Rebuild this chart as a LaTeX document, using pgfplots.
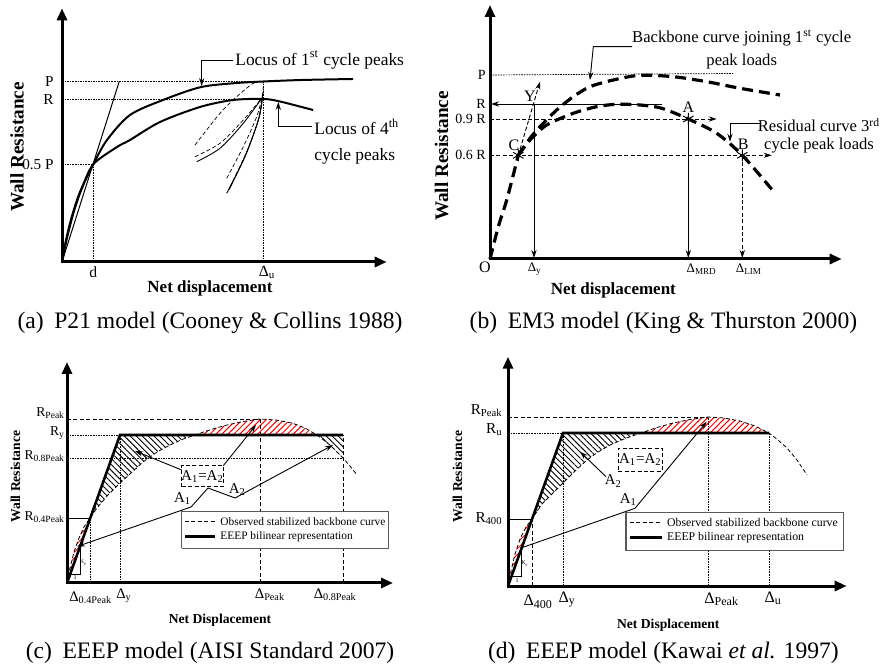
\documentclass[border=0pt]{standalone}
\usepackage{fontspec}
\setmainfont{Liberation Serif}
\usepackage{pgfplots}
\pgfplotsset{compat=1.18}
\usetikzlibrary{patterns.meta,arrows.meta}

\newcommand\fs[1]{\fontsize{#1}{#1}\selectfont}

\tikzset{
  axln/.style={line width=1.5pt, line join=miter,
    {Triangle[length=6pt,width=5pt]}-{Triangle[length=6pt,width=5pt]}},
  dotl/.style={line width=0.35pt, dash pattern=on 0.8pt off 0.5pt},
  dashl/.style={line width=0.45pt, dash pattern=on 2pt off 1.2pt},
  bigdash/.style={line width=1.6pt, dash pattern=on 5.5pt off 3pt},
  lead/.style={line width=0.45pt},
  ahead/.style={-{Stealth[length=4pt,width=2.6pt]}},
  hatchr/.style={draw=none, pattern={Lines[angle=45,distance=2.1pt,line width=0.5pt]}, pattern color=red},
  hatchk/.style={draw=none, pattern={Lines[angle=-45,distance=2.1pt,line width=0.45pt]}, pattern color=black},
}
\pgfplotsset{panel/.style={x=0.5pt, y=0.5pt, hide axis, clip=false,
  anchor=origin, xmin=0, ymin=0, enlargelimits=false}}

\begin{document}
\begin{tikzpicture}
\path[use as bounding box] (0,0) rectangle (440.5pt,334pt);

% ---------------- (a) P21 model ----------------
\begin{axis}[panel, at={(31pt,203pt)}, xmax=324.7, ymax=253.7]
  \addplot[dotl] coordinates {(0,180.7) (201.3,180.7)};
  \addplot[dotl] coordinates {(0,162.7) (201.3,162.7)};
  \addplot[dotl] coordinates {(0,97.7) (31.3,97.7)};
  \addplot[dotl] coordinates {(31.3,0) (31.3,97.7)};
  \addplot[dotl] coordinates {(201.3,0) (201.3,180.7)};
  \addplot[line width=0.5pt] coordinates {(0,0) (57.3,180.7)};
  % cycles
  \addplot[dashl, line width=0.35pt, smooth] coordinates {(133,117) (158,148.7) (174.7,165.3) (191.3,178.7) (201.3,180.3)};
  \addplot[dashl, line width=0.35pt, smooth] coordinates {(133,105.3) (158,118.7) (181.3,142) (199.7,163.7)};
  \addplot[line width=0.45pt, smooth] coordinates {(134.7,100.3) (158,113.7) (181.3,138.7) (199.7,163.7)};
  \addplot[dashl, line width=0.35pt, smooth] coordinates {(164.7,83.7) (181.3,115.3) (194.7,145.3) (200.7,168.7) (201.3,180)};
  \addplot[line width=0.45pt, smooth] coordinates {(164.7,68.7) (183,105.3) (196.3,142) (200.7,167)};
  \addplot[dashl, line width=0.35pt, smooth] coordinates {(168,75.3) (184.7,110.3) (197.3,145.3) (201.3,172)};
  \addplot[line width=0.4pt, smooth] coordinates {(167,72) (184,108) (197,144) (200.5,166)};
  % locus curves
  \addplot[line width=1pt, smooth] coordinates {(0,0) (4,22) (10,46) (18,70) (31.3,97.7) (45,122) (68,147) (101,162) (138,174.7) (171,178.7) (201.3,180.5) (240,182) (291,183)};
  \addplot[line width=1pt, smooth] coordinates {(0,0) (5,24) (12,51) (20,74) (31.3,97.7) (55,115) (68,122) (98,140) (138,155) (171,162) (201.3,163) (218,160.5) (251,152)};
  \addplot[axln] coordinates {(0,253.7) (0,0) (324.7,0)};
  \addplot[lead, ahead] coordinates {(171,202) (139.7,202) (139.7,176)};
  \addplot[lead, ahead] coordinates {(249.7,135.3) (216.3,135.3) (216.3,160)};
  \node[anchor=west, font=\fs{8.7}, inner sep=0.5pt] at (axis cs:172,202) {Locus of 1\textsuperscript{st} cycle peaks};
  \node[anchor=west, font=\fs{8.7}, inner sep=0.5pt] at (axis cs:251,135.3) {Locus of 4\textsuperscript{th}};
  \node[anchor=west, font=\fs{8.7}, inner sep=0.5pt] at (axis cs:251,105.3) {cycle peaks};
  \node[anchor=east, font=\fs{7.6}, inner sep=1pt] at (axis cs:-6,180.7) {P};
  \node[anchor=east, font=\fs{7.6}, inner sep=1pt] at (axis cs:-6,162.7) {R};
  \node[anchor=east, font=\fs{7.6}, inner sep=1pt] at (axis cs:-6,97.7) {0.5 P};
  \node[font=\fs{7.8}] at (axis cs:31.3,-10) {d};
  \node[font=\fs{7.8}] at (axis cs:205,-10) {Δ\textsubscript{u}};
  \node[font=\bfseries\fs{8.5}] at (axis cs:148,-26) {Net displacement};
  \node[font=\bfseries\fs{9.6}, rotate=90] at (axis cs:-45,115) {Wall Resistance};
\end{axis}

% ---------------- (b) EM3 model ----------------
\begin{axis}[panel, at={(245pt,204.5pt)}, xmax=351.7, ymax=254]
  \addplot[dotl] coordinates {(0,184) (243,185.5)};
  \addplot[dashl, ahead] coordinates {(0,140) (226.7,140)};
  \addplot[dashl, ahead] coordinates {(0,103.7) (281.7,103.7)};
  \addplot[lead, ahead] coordinates {(171.7,155) (1,155)};
  \addplot[lead, ahead] coordinates {(44,155) (44,1)};
  \addplot[lead, ahead] coordinates {(198.3,140) (198.3,1)};
  \addplot[dashl, ahead] coordinates {(252.3,103.7) (252.3,1)};
  \addplot[dashl, ahead] coordinates {(28.3,103.7) (50,177.3)};
  \addplot[bigdash, smooth] coordinates {(0,0) (8.3,32.3) (16.7,59) (28.3,103.7)};
  \addplot[bigdash, smooth] coordinates {(28.3,103.7) (40,120.7) (50,132.3) (66.7,149) (83.3,162.3) (100,172.3) (123.3,179) (150,183.7) (183.3,182.3) (216.7,177.3) (250,170.7) (290,164)};
  \addplot[bigdash, smooth] coordinates {(28.3,103.7) (40,119) (56.7,134) (83.3,145.7) (106.7,152.3) (126.7,154.7) (150,154) (171.7,150.7) (198.3,140) (226.7,125.7) (252.3,103.7) (281.7,69.7)};
  \addplot[only marks, mark=asterisk, mark size=3pt, line width=0.5pt] coordinates {(28.3,103.7) (198.3,140) (252.3,103.7)};
  \addplot[axln] coordinates {(0,254) (0,0) (351.7,0)};
  \addplot[lead, ahead] coordinates {(142,212.3) (103.3,212.3) (100,179)};
  \addplot[lead, ahead] coordinates {(270,135.7) (240,135.7) (240,117.3)};
  \node[font=\fs{8.3}] at (axis cs:251.7,220.7) {Backbone curve joining 1\textsuperscript{st} cycle};
  \node[font=\fs{8.3}] at (axis cs:251.7,197.3) {peak loads};
  \node[font=\fs{8.3}] at (axis cs:329,134) {Residual curve 3\textsuperscript{rd}};
  \node[font=\fs{8.3}] at (axis cs:329,113.3) {cycle peak loads};
  \node[font=\fs{8}] at (axis cs:24,114) {C};
  \node[font=\fs{8}] at (axis cs:40,162.3) {Y};
  \node[font=\fs{8}] at (axis cs:198.3,151.7) {A};
  \node[font=\fs{8}] at (axis cs:253.3,115) {B};
  \node[font=\fs{8}] at (axis cs:-5,-8) {O};
  \node[anchor=east, font=\fs{7}, inner sep=0.5pt] at (axis cs:-3,183.7) {P};
  \node[anchor=east, font=\fs{7}, inner sep=0.5pt] at (axis cs:-3,155) {R};
  \node[anchor=east, font=\fs{7}, inner sep=0.5pt] at (axis cs:-3,140) {0.9 R};
  \node[anchor=east, font=\fs{7}, inner sep=0.5pt] at (axis cs:-3,103.7) {0.6 R};
  \node[font=\fs{6.5}] at (axis cs:44.7,-10) {Δ\textsubscript{y}};
  \node[font=\fs{6.5}] at (axis cs:211.7,-10) {Δ\textsubscript{MRD}};
  \node[font=\fs{6.5}] at (axis cs:259,-10) {Δ\textsubscript{LIM}};
  \node[font=\bfseries\fs{8.5}] at (axis cs:123.3,-31) {Net displacement};
  \node[font=\bfseries\fs{9.6}, rotate=90] at (axis cs:-48.5,103) {Wall Resistance};
\end{axis}

% ---------------- (c) EEEP, AISI ----------------
\begin{axis}[panel, at={(33.5pt,42.5pt)}, xmax=326, ymax=221]
  % hatched areas between observed curve and EEEP line
  \addplot[hatchr] coordinates {(0,0) (3,15) (7,31) (12,45) (17,56) (23,65) (0,0)};
  \addplot[hatchk] coordinates {(23,65) (53,148) (128,148) (115,143.5) (103,138) (90,131) (76,121) (63,109) (50,97) (40,87) (30,75) (23,65)};
  \addplot[hatchr] coordinates {(128,148) (144,153.5) (160,158) (176,161.5) (193,164) (209,163) (225,160) (238,155) (250,148) (128,148)};
  \addplot[hatchk] coordinates {(250,148) (276,148) (276,125) (263,138) (250,148)};
  \addplot[dashl, line width=0.35pt] coordinates {(0,164) (193,164)};
  \addplot[dotl] coordinates {(0,148) (53,148)};
  \addplot[dotl] coordinates {(0,125) (276,125)};
  \addplot[line width=0.4pt] coordinates {(0,65) (23,65)};
  \addplot[dotl] coordinates {(23,0) (23,65)};
  \addplot[dotl] coordinates {(53,0) (53,148)};
  \addplot[dashl, line width=0.35pt] coordinates {(193,0) (193,164)};
  \addplot[dashl, line width=0.35pt] coordinates {(276,0) (276,148)};
  % observed stabilized backbone curve
  \addplot[dashl, line width=0.4pt] coordinates {(0,0) (3,15) (7,31) (12,45) (17,56) (23,65) (30,75) (40,87) (50,97) (63,109) (76,121) (90,131) (103,138) (115,143.5) (128,148) (144,153.5) (160,158) (176,161.5) (193,164) (209,163) (225,160) (238,155) (250,148) (263,138) (276,125) (283,117) (290,108)};
  \addplot[line width=0.4pt] coordinates {(3.2,9) (13,9) (13,36)};
  % EEEP bilinear
  \addplot[line width=1.3pt] coordinates {(0,0) (53,148) (276,148)};
  \addplot[axln] coordinates {(0,221) (0,0) (326,0)};
  % A1 = A2 annotation
  \addplot[dashl, line width=0.4pt] coordinates {(114.7,96.3) (156.3,96.3) (156.3,117.3) (114.7,117.3) (114.7,96.3)};
  \addplot[lead, ahead] coordinates {(114.7,113) (68,132)};
  \addplot[lead, ahead] coordinates {(156.3,117.3) (189,158)};
  \addplot[lead, ahead] coordinates {(141,95) (124,76) (10,36.5)};
  \addplot[lead, ahead] coordinates {(141,95) (168,85) (266,138)};
  % legend
  \addplot[fill=white, draw=black!65, line width=0.6pt] coordinates {(114.7,34.7) (321.3,34.7) (321.3,71.3) (114.7,71.3) (114.7,34.7)};
  \addplot[dashl, line width=0.45pt] coordinates {(118,61.3) (148,61.3)};
  \addplot[line width=1.8pt] coordinates {(118,46.3) (148,46.3)};
  \node[anchor=west, font=\fs{5.7}, inner sep=0pt] at (axis cs:153,61.3) {Observed stabilized backbone curve};
  \node[anchor=west, font=\fs{5.7}, inner sep=0pt] at (axis cs:153,46.3) {EEEP bilinear representation};
  \node[font=\fs{7.5}] at (axis cs:135.5,106.8) {A\textsubscript{1}=A\textsubscript{2}};
  \node[font=\fs{7.5}] at (axis cs:115.7,84.7) {A\textsubscript{1}};
  \node[font=\fs{7.5}] at (axis cs:170.3,93.7) {A\textsubscript{2}};
  \node[font=\fs{3}] at (axis cs:16.5,20.3) {K\textsubscript{e}};
  \node[font=\fs{3}] at (axis cs:8,5.7) {1};
  \node[anchor=east, font=\fs{6.8}, inner sep=0.3pt] at (axis cs:-1,170.3) {R\textsubscript{Peak}};
  \node[anchor=east, font=\fs{6.8}, inner sep=0.3pt] at (axis cs:-1,149.7) {R\textsubscript{y}};
  \node[anchor=east, font=\fs{6.8}, inner sep=0.3pt] at (axis cs:-1,127) {R\textsubscript{0.8Peak}};
  \node[anchor=east, font=\fs{6.8}, inner sep=0.3pt] at (axis cs:-1,65.7) {R\textsubscript{0.4Peak}};
  \node[font=\fs{7.3}] at (axis cs:23.8,-14.7) {Δ\textsubscript{0.4Peak}};
  \node[font=\fs{7.3}] at (axis cs:57,-13) {Δ\textsubscript{y}};
  \node[font=\fs{7.3}] at (axis cs:203,-12) {Δ\textsubscript{Peak}};
  \node[font=\fs{7.3}] at (axis cs:268.3,-12) {Δ\textsubscript{0.8Peak}};
  \node[font=\bfseries\fs{6.8}] at (axis cs:153,-37) {Net Displacement};
  \node[font=\bfseries\fs{6.8}, rotate=90] at (axis cs:-51.5,106.3) {Wall Resistance};
\end{axis}

% ---------------- (d) EEEP, Kawai ----------------
\begin{axis}[panel, at={(254pt,41pt)}, xmax=338.7, ymax=229.3]
  \addplot[hatchr] coordinates {(0,0) (3,15) (7,32) (12,47) (18,59) (24,67) (0,0)};
  \addplot[hatchk] coordinates {(24,67) (55,153) (133,153) (117,147.5) (102,141) (90,134) (79,126) (67,115) (55,103) (45,93) (34,82) (24,67)};
  \addplot[hatchr] coordinates {(133,153) (149,158.5) (165,163) (182,166.5) (200,169) (216,168) (232,165) (247,160) (261,153) (133,153)};
  \addplot[dashl, line width=0.35pt] coordinates {(0,169) (200,169)};
  \addplot[dotl] coordinates {(0,153) (55,153)};
  \addplot[line width=0.4pt] coordinates {(0,67) (24,67)};
  \addplot[dashl, line width=0.35pt] coordinates {(24,0) (24,67)};
  \addplot[dotl] coordinates {(55,0) (55,153)};
  \addplot[dotl] coordinates {(200,0) (200,169)};
  \addplot[dotl] coordinates {(261,0) (261,153)};
  \addplot[dashl, line width=0.4pt] coordinates {(0,0) (3,15) (7,32) (12,47) (18,59) (24,67) (34,82) (45,93) (55,103) (67,115) (79,126) (90,134) (102,141) (117,147.5) (133,153) (149,158.5) (165,163) (182,166.5) (200,169) (216,168) (232,165) (247,160) (261,153) (270,146) (279,138) (289,126) (299,111)};
  \addplot[line width=0.4pt] coordinates {(3.7,9.3) (13.7,9.3) (13.7,37.7)};
  \addplot[line width=1.3pt] coordinates {(0,0) (55,153) (261,153)};
  \addplot[axln] coordinates {(0,229.3) (0,0) (338.7,0)};
  \addplot[dashl, line width=0.4pt] coordinates {(110.3,115) (154.3,115) (154.3,137.7) (110.3,137.7) (110.3,115)};
  \addplot[lead, ahead] coordinates {(98,109.3) (72,134.3)};
  \addplot[lead, ahead] coordinates {(12,37.7) (127,77.7) (198.7,164.3)};
  % legend
  \addplot[fill=white, draw=black!65, line width=0.6pt] coordinates {(118,35.3) (335.3,35.3) (335.3,73.3) (118,73.3) (118,35.3)};
  \addplot[dashl, line width=0.45pt] coordinates {(122,63.3) (153.7,63.3)};
  \addplot[line width=1.8pt] coordinates {(122,48.3) (153.7,48.3)};
  \node[anchor=west, font=\fs{5.9}, inner sep=0pt] at (axis cs:158.7,63.3) {Observed stabilized backbone curve};
  \node[anchor=west, font=\fs{5.9}, inner sep=0pt] at (axis cs:158.7,48.3) {EEEP bilinear representation};
  \node[font=\fs{7.5}] at (axis cs:132.3,126.3) {A\textsubscript{1}=A\textsubscript{2}};
  \node[font=\fs{7.5}] at (axis cs:105.3,105) {A\textsubscript{2}};
  \node[font=\fs{7.5}] at (axis cs:120.3,86.7) {A\textsubscript{1}};
  \node[font=\fs{3}] at (axis cs:17,22) {K\textsubscript{e}};
  \node[font=\fs{3}] at (axis cs:9,5) {1};
  \node[anchor=east, font=\fs{7.6}, inner sep=0.5pt] at (axis cs:-4,175.3) {R\textsubscript{Peak}};
  \node[anchor=east, font=\fs{7.6}, inner sep=0.5pt] at (axis cs:-4,156) {R\textsubscript{u}};
  \node[anchor=east, font=\fs{7.6}, inner sep=0.5pt] at (axis cs:-4,67) {R\textsubscript{400}};
  \node[font=\fs{8}] at (axis cs:30.3,-15.7) {Δ\textsubscript{400}};
  \node[font=\fs{8}] at (axis cs:59.3,-14) {Δ\textsubscript{y}};
  \node[font=\fs{8}] at (axis cs:213.7,-13.3) {Δ\textsubscript{Peak}};
  \node[font=\fs{8}] at (axis cs:265.3,-12) {Δ\textsubscript{u}};
  \node[font=\bfseries\fs{6.8}] at (axis cs:160.3,-39) {Net Displacement};
  \node[font=\bfseries\fs{6.8}, rotate=90] at (axis cs:-50.5,109.3) {Wall Resistance};
\end{axis}

% captions
\node[font=\fs{11.8}] at (105pt,172.5pt) {(a)\hspace{0.45em}P21 model (Cooney \& Collins 1988)};
\node[font=\fs{11.8}] at (331.7pt,172.5pt) {(b)\hspace{0.45em}EM3 model (King \& Thurston 2000)};
\node[font=\fs{11.8}] at (105pt,7.4pt) {(c)\hspace{0.45em}EEEP model (AISI Standard 2007)};
\node[font=\fs{11.8}] at (331.7pt,7.4pt) {(d)\hspace{0.45em}EEEP model (Kawai \textit{et al.} 1997)};
\end{tikzpicture}
\end{document}
